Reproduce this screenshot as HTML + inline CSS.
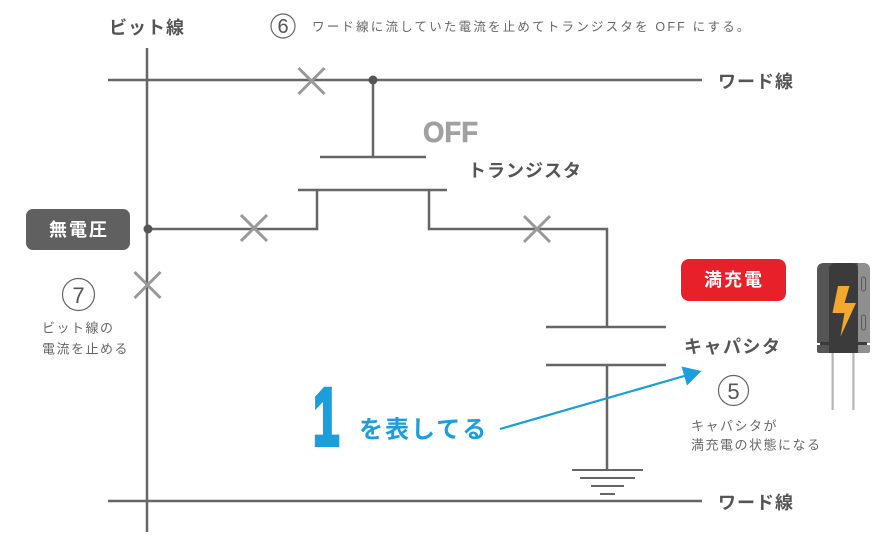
<!DOCTYPE html>
<html><head><meta charset="utf-8"><style>
html,body{margin:0;padding:0;background:#fff;}
svg{display:block;}
text{font-family:"Liberation Sans","Noto Sans CJK JP",sans-serif;}
</style></head><body>
<svg width="884" height="544" viewBox="0 0 884 544" xmlns="http://www.w3.org/2000/svg">
<rect width="884" height="544" fill="#fff"/>
<g stroke="#666" stroke-width="2.5" fill="none">
 <line x1="108" y1="80" x2="702" y2="80"/>
 <line x1="108" y1="501" x2="702" y2="501"/>
 <line x1="147" y1="48" x2="147" y2="532"/>
 <line x1="373" y1="80" x2="373" y2="157"/>
 <line x1="320" y1="157" x2="426" y2="157"/>
 <line x1="298" y1="190" x2="447" y2="190"/>
 <polyline points="147,229 317,229 317,190"/>
 <polyline points="429,190 429,229 607,229 607,327"/>
 <line x1="546" y1="327" x2="666" y2="327"/>
 <line x1="546" y1="365" x2="666" y2="365"/>
 <line x1="607" y1="365" x2="607" y2="470"/>
</g>
<g stroke="#666" stroke-width="2" fill="none">
 <line x1="572" y1="470" x2="643" y2="470"/>
 <line x1="580" y1="478" x2="635" y2="478"/>
 <line x1="591" y1="486" x2="624" y2="486"/>
 <line x1="600" y1="494" x2="615" y2="494"/>
</g>
<circle cx="373" cy="80" r="4.5" fill="#555"/>
<circle cx="148" cy="229" r="4.5" fill="#555"/>
<g stroke="#999" stroke-width="3">
 <path d="M298.5,68 L324.5,94 M324.5,68 L298.5,94"/>
 <path d="M241,215 L267,241 M267,215 L241,241"/>
 <path d="M524,216 L550,242 M550,216 L524,242"/>
 <path d="M134.5,272 L160.5,298 M160.5,272 L134.5,298"/>
</g>

<!-- labels -->
<text x="109" y="28" font-size="18" font-weight="bold" fill="#555" letter-spacing="1" dominant-baseline="central">ビット線</text>
<circle cx="283" cy="26" r="12" fill="none" stroke="#666" stroke-width="1.2"/>
<text x="283" y="27" font-size="20" fill="#555" text-anchor="middle" dominant-baseline="central">6</text>
<text x="312" y="27" font-size="12.5" fill="#666" letter-spacing="2.2" dominant-baseline="central">ワード線に流していた電流を止めてトランジスタを OFF にする。</text>

<text x="718" y="82" font-size="18" font-weight="bold" fill="#555" letter-spacing="1" dominant-baseline="central">ワード線</text>
<text x="718" y="503" font-size="18" font-weight="bold" fill="#555" letter-spacing="1" dominant-baseline="central">ワード線</text>

<text x="423" y="142" font-size="29" font-weight="bold" fill="#a0a0a0" stroke="#a0a0a0" stroke-width="0.6" textLength="55" lengthAdjust="spacingAndGlyphs">OFF</text>
<text x="468" y="171" font-size="18" font-weight="bold" fill="#555" letter-spacing="1" dominant-baseline="central">トランジスタ</text>

<rect x="26" y="209" width="104" height="41" rx="7" fill="#606060"/>
<text x="79" y="230" font-size="18" font-weight="bold" fill="#fff" letter-spacing="2" text-anchor="middle" dominant-baseline="central">無電圧</text>

<circle cx="78.5" cy="294.5" r="16" fill="none" stroke="#666" stroke-width="1.2"/>
<text x="78.5" y="295.5" font-size="22" fill="#555" text-anchor="middle" dominant-baseline="central">7</text>
<text x="42" y="328" font-size="13" fill="#666" letter-spacing="1.5" dominant-baseline="central">ビット線の</text>
<text x="42" y="349" font-size="13" fill="#666" letter-spacing="1.5" dominant-baseline="central">電流を止める</text>

<rect x="681" y="259" width="105" height="42" rx="8" fill="#e8202a"/>
<text x="734" y="280" font-size="18" font-weight="bold" fill="#fff" letter-spacing="2" text-anchor="middle" dominant-baseline="central">満充電</text>

<text x="684" y="347" font-size="18" font-weight="bold" fill="#555" letter-spacing="1.5" dominant-baseline="central">キャパシタ</text>
<circle cx="733.5" cy="390.5" r="15" fill="none" stroke="#666" stroke-width="1.2"/>
<text x="733.5" y="391.5" font-size="22" fill="#555" text-anchor="middle" dominant-baseline="central">5</text>
<text x="691" y="426" font-size="13" fill="#666" letter-spacing="1.5" dominant-baseline="central">キャパシタが</text>
<text x="691" y="445" font-size="13" fill="#666" letter-spacing="1.5" dominant-baseline="central">満充電の状態になる</text>

<!-- blue -->
<g transform="translate(313,0) scale(0.58,1)">
<text x="0" y="445" font-size="82" font-weight="bold" fill="#1a9fdc" stroke="#1a9fdc" stroke-width="4" stroke-linejoin="miter">1</text>
</g>
<text x="359" y="430" font-size="24" font-weight="bold" fill="#1a9fdc" letter-spacing="2" dominant-baseline="central">を表してる</text>
<line x1="500" y1="429" x2="686" y2="375.5" stroke="#1a9fdc" stroke-width="2.2"/>
<polygon points="701.5,371 681.5,366.5 687,385.5" fill="#1a9fdc"/>

<!-- capacitor icon -->
<rect x="831.5" y="350" width="2.2" height="60" fill="#b5b5b5"/>
<rect x="852.3" y="350" width="2.2" height="60" fill="#b5b5b5"/>
<path d="M817,343 V270 Q817,263 824,263 H863 Q870,263 870,270 V343 Z" fill="#555"/>
<path d="M858,263 H863 Q870,263 870,270 V343 H858 Z" fill="#8f8f8f"/>
<path d="M829,343 V270 Q829,263 836,263 H851 Q858,263 858,270 V343 Z" fill="#3b3b3b"/>
<rect x="820" y="342" width="47" height="4" fill="#3b3b3b"/>
<path d="M817,345 H829 V353 H819 Q817,353 817,351 Z" fill="#555"/>
<rect x="829" y="345" width="29" height="8" fill="#3b3b3b"/>
<path d="M858,345 H870 V351 Q870,353 868,353 H858 Z" fill="#8f8f8f"/>
<rect x="861.5" y="277" width="4" height="14" rx="2" fill="none" stroke="#5a5a5a" stroke-width="1"/>
<rect x="861.5" y="315" width="4" height="15" rx="2" fill="none" stroke="#5a5a5a" stroke-width="1"/>
<polygon points="838,286 849.5,286 844.5,303 856,303 840.5,336.5 844.5,313 832.5,313" fill="#f5a82e"/>
</svg>
</body></html>
